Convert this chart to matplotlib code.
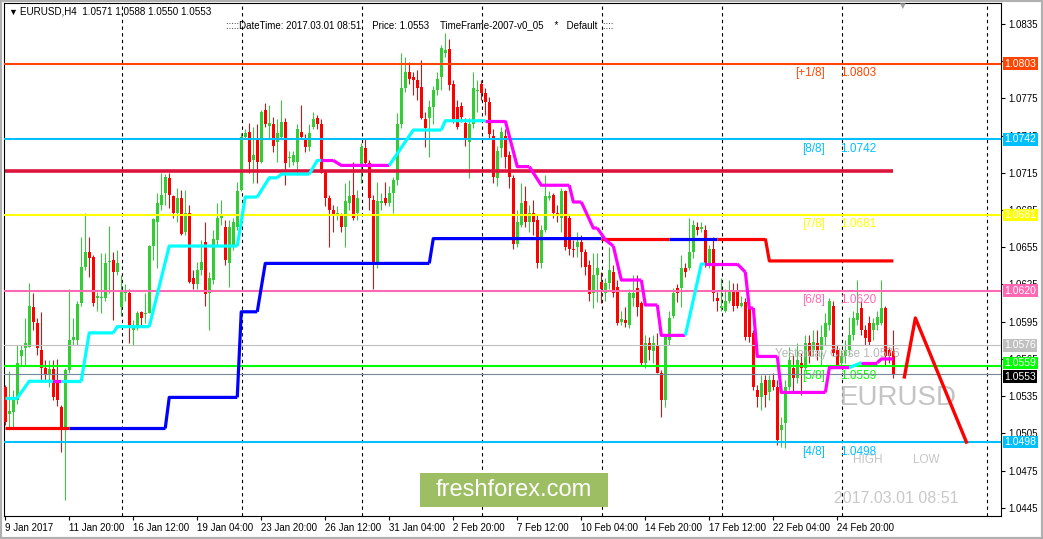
import numpy as np
import matplotlib.pyplot as plt
from matplotlib.patches import Rectangle
from matplotlib.transforms import blended_transform_factory

plt.rcParams['font.family'] = ['Liberation Sans', 'DejaVu Sans']

# EURUSD H4 candles, prices written as points above 1.0000 (553 -> 1.0553)
bar_open = [542, 521, 522, 532, 567, 574, 575, 607, 594, 572,
            558, 552, 557, 548, 526, 509, 556, 580, 580, 610,
            639, 651, 647, 614, 614, 614, 643, 645, 635, 607,
            618, 618, 588, 591, 603, 601, 602, 656, 675, 689,
            699, 711, 696, 683, 695, 667, 683, 630, 625, 637,
            659, 618, 629, 661, 679, 671, 642, 655, 671, 701,
            744, 748, 725, 742, 724, 766, 753, 754, 740, 744,
            756, 727, 724, 724, 748, 742, 736, 752, 759, 754,
            717, 695, 685, 681, 681, 671, 691, 697, 683, 720,
            735, 723, 693, 642, 691, 695, 691, 699, 709, 754,
            783, 796, 792, 790, 784, 758, 759, 768, 782, 792,
            812, 815, 787, 768, 769, 755, 740, 754, 781, 787,
            779, 772, 745, 711, 735, 745, 729, 711, 658, 673,
            692, 675, 683, 677, 642, 669, 695, 697, 683, 679,
            700, 679, 654, 655, 659, 651, 641, 618, 633, 627,
            618, 626, 635, 623, 595, 596, 592, 614, 622, 610,
            562, 578, 571, 576, 554, 532, 580, 600, 622, 622,
            638, 638, 651, 671, 670, 669, 642, 654, 614, 606,
            604, 612, 619, 619, 608, 611, 606, 586, 540, 534,
            548, 538, 548, 542, 508, 513, 542, 558, 550, 562,
            558, 578, 572, 578, 572, 583, 592, 608, 572, 562,
            567, 572, 584, 596, 606, 588, 594, 588, 592, 594,
            606, 572, 571]
bar_high = [544, 555, 540, 576, 576, 598, 626, 618, 598, 603,
            564, 564, 564, 565, 528, 558, 621, 598, 612, 663,
            683, 663, 649, 619, 650, 650, 672, 651, 653, 633,
            625, 621, 596, 604, 604, 618, 657, 679, 699, 715,
            714, 715, 697, 703, 701, 701, 689, 637, 643, 661,
            675, 635, 669, 691, 693, 677, 677, 679, 708, 747,
            750, 755, 752, 754, 766, 771, 770, 760, 758, 774,
            759, 733, 733, 754, 770, 746, 754, 764, 762, 758,
            717, 697, 689, 688, 683, 707, 709, 724, 701, 739,
            742, 725, 697, 708, 699, 708, 704, 712, 763, 812,
            808, 804, 796, 798, 806, 764, 774, 785, 796, 818,
            828, 823, 790, 774, 772, 759, 759, 796, 790, 790,
            783, 776, 750, 737, 752, 750, 733, 713, 685, 707,
            704, 689, 693, 681, 673, 713, 700, 699, 689, 703,
            701, 681, 661, 667, 665, 654, 645, 650, 650, 635,
            630, 655, 641, 629, 604, 607, 621, 633, 633, 612,
            584, 583, 584, 586, 556, 584, 604, 622, 625, 649,
            642, 679, 677, 675, 675, 673, 657, 663, 619, 630,
            621, 629, 626, 626, 616, 614, 608, 588, 544, 552,
            552, 552, 554, 548, 518, 548, 575, 568, 578, 570,
            584, 584, 588, 588, 592, 602, 614, 612, 576, 572,
            580, 599, 604, 629, 612, 592, 600, 598, 604, 629,
            608, 575, 588]
bar_low = [512, 510, 510, 529, 559, 560, 575, 588, 568, 548,
           548, 542, 532, 527, 490, 451, 554, 576, 576, 608,
           637, 631, 608, 604, 602, 612, 618, 596, 633, 600,
           612, 578, 576, 588, 592, 594, 602, 645, 638, 685,
           689, 687, 679, 675, 665, 665, 626, 621, 621, 633,
           608, 588, 625, 657, 673, 641, 623, 653, 669, 700,
           742, 715, 707, 707, 723, 752, 742, 732, 724, 742,
           705, 720, 721, 715, 742, 732, 733, 750, 750, 715,
           688, 655, 667, 677, 667, 655, 685, 677, 677, 707,
           721, 685, 621, 638, 685, 689, 688, 683, 705, 751,
           780, 787, 778, 774, 758, 736, 728, 754, 778, 782,
           808, 782, 755, 750, 756, 737, 711, 751, 764, 774,
           762, 742, 707, 704, 728, 719, 703, 654, 655, 671,
           671, 667, 665, 638, 638, 667, 693, 679, 675, 667,
           653, 649, 647, 647, 639, 633, 612, 606, 611, 610,
           612, 621, 615, 592, 592, 591, 590, 608, 600, 560,
           558, 564, 562, 554, 518, 526, 576, 598, 611, 607,
           631, 637, 646, 665, 667, 639, 638, 612, 604, 604,
           603, 610, 604, 606, 607, 580, 579, 540, 526, 524,
           526, 532, 540, 496, 494, 493, 540, 538, 546, 536,
           556, 562, 567, 564, 560, 576, 588, 567, 558, 558,
           562, 568, 580, 592, 584, 576, 576, 580, 588, 592,
           560, 562, 550]
bar_close = [514, 523, 534, 562, 572, 578, 608, 595, 574, 558,
             552, 557, 534, 532, 509, 556, 580, 583, 609, 639,
             651, 646, 610, 616, 615, 642, 644, 635, 642, 619,
             619, 592, 590, 602, 598, 602, 656, 678, 691, 697,
             712, 697, 683, 695, 666, 683, 627, 625, 637, 643,
             617, 630, 662, 679, 681, 645, 671, 675, 700, 744,
             747, 724, 729, 724, 764, 754, 755, 737, 747, 756,
             723, 728, 729, 750, 744, 736, 747, 758, 754, 715,
             695, 685, 681, 683, 671, 692, 696, 679, 695, 736,
             723, 695, 642, 692, 692, 691, 699, 709, 754, 783,
             796, 791, 790, 783, 759, 751, 768, 782, 791, 816,
             814, 786, 758, 752, 760, 742, 754, 783, 782, 779,
             772, 746, 712, 733, 748, 728, 712, 658, 675, 691,
             675, 683, 675, 642, 669, 696, 696, 683, 681, 700,
             655, 654, 653, 659, 651, 639, 617, 633, 638, 621,
             626, 637, 618, 594, 597, 594, 618, 618, 607, 562,
             578, 572, 578, 554, 532, 583, 598, 618, 618, 638,
             635, 651, 673, 669, 671, 642, 654, 618, 612, 608,
             612, 619, 608, 608, 610, 583, 583, 542, 534, 546,
             536, 548, 542, 500, 512, 542, 564, 550, 564, 558,
             578, 567, 579, 572, 583, 594, 612, 570, 560, 567,
             572, 584, 598, 602, 588, 582, 579, 594, 599, 606,
             567, 567, 553]

date_ticks = [0, 16, 32, 48, 64, 80, 96, 112, 128, 144, 160, 176, 192, 208]
date_labels = ['9 Jan 2017', '11 Jan 20:00', '16 Jan 12:00', '19 Jan 04:00',
               '23 Jan 20:00', '26 Jan 12:00', '31 Jan 04:00', '2 Feb 20:00',
               '7 Feb 12:00', '10 Feb 04:00', '14 Feb 20:00', '17 Feb 12:00',
               '22 Feb 04:00', '24 Feb 20:00']

# Murrey math levels
murrey_names = ['[+1/8]', '[8/8]', '[7/8]', '[6/8]', '[5/8]', '[4/8]']
murrey_levels = [803, 742, 681, 620, 559, 498]
murrey_colors = ['#FF4500', '#00BFFF', '#FFFF00', '#FF69B4', '#00FF00', '#00BFFF']

yesterday_close = 576
bid_price = 553
crimson_level = 716.5

# support / resistance steps
sr_start = [0, 16, 41, 59, 65, 107, 149, 166, 178, 191]
sr_end = [16, 40, 58, 63, 106, 149, 166, 178, 190, 222]
sr_level = [509, 509, 534, 603, 642, 662, 662, 662, 662, 644]
sr_color = ['r', 'b', 'b', 'b', 'b', 'b', 'r', 'b', 'r', 'r']

# trailing stop line (c = cyan up, m = magenta down)
tr_start = [0, 6, 13, 15, 21, 28, 41, 60, 66, 69, 78, 79, 84, 102, 110, 120,
            128, 134, 142, 147, 150, 152, 154, 160, 164, 174, 176, 185, 186,
            188, 194, 206, 214, 215, 219]
tr_end = [3, 12, 14, 19, 27, 36, 58, 63, 68, 76, 79, 82, 96, 109, 120, 125,
          131, 141, 144, 148, 150, 152, 159, 163, 170, 175, 183, 185, 187,
          193, 205, 211, 214, 218, 222]
tr_level = [533.5, 547, 547, 547, 586, 591, 656, 695.5, 711, 714, 725, 725,
            721, 749.5, 757, 757, 720, 705, 691.5, 670.5, 661, 656, 628.6,
            608.5, 584, 641.5, 641.5, 635, 606, 567, 538, 558, 562, 562, 565]
tr_color = ['c', 'c', 'm', 'c', 'c', 'c', 'c', 'c', 'c', 'c', 'c', 'm', 'm',
            'c', 'c', 'm', 'm', 'm', 'm', 'm', 'm', 'm', 'm', 'm', 'm', 'c',
            'm', 'm', 'm', 'm', 'm', 'm', 'c', 'm', 'm']

# forecast zigzag
zz_bar = [224.75, 227.5, 240.25]
zz_level = [550.5, 598, 498]


def price(v):
    return 1 + np.asarray(v, dtype=float) / 10000.0


W, H = 1043, 539
fig = plt.figure(figsize=(W / 100, H / 100), dpi=100)
fig.patch.set_facecolor('white')
ax = fig.add_axes([4 / W, 23 / H, 997 / W, 513 / H])
ax.set_xlim(-0.3, 248.9)
ax.set_ylim(1.04384, 1.08519)
for s in ax.spines.values():
    s.set_color('black')
    s.set_linewidth(0.8)

o, h, l, c = price(bar_open), price(bar_high), price(bar_low), price(bar_close)
idx = np.arange(len(o))
up = c >= o
cols = np.where(up, '#32CD32', '#FF0000')
ax.vlines(idx, l, h, colors=cols, lw=0.75, zorder=3)
body = np.maximum(np.abs(c - o), 0.00009)
ax.bar(idx, body, bottom=np.minimum(o, c), width=0.72, color=cols,
       linewidth=0, zorder=3)

# dotted period separators
for gx in [29.2, 59.2, 89.2, 119.2, 149.2, 179.2, 209.2, 245.4]:
    ax.axvline(gx, color='black', lw=0.8, ls=(0, (3, 3)), zorder=2)

# horizontal levels
for name, lev, col in zip(murrey_names, murrey_levels, murrey_colors):
    ax.axhline(price(lev), color=col, lw=1.5, zorder=4)
    ax.annotate(name, (205, price(lev)), xytext=(0, -2.5), textcoords='offset points',
                ha='right', va='top', color=col, fontsize=8.5, zorder=4)
    ax.annotate('%.4f' % price(lev), (208.6, price(lev)), xytext=(0, -2.5),
                textcoords='offset points', ha='left', va='top', color=col,
                fontsize=8.5, zorder=4)
ax.axhline(price(yesterday_close), color='#C0C0C0', lw=0.8, zorder=4)
ax.annotate('Yesterday Close %.4f' % price(yesterday_close), (192.5, price(yesterday_close)),
            xytext=(0, -2), textcoords='offset points', ha='left', va='top',
            color='#B8B8B8', fontsize=8.5, zorder=4)
ax.axhline(price(bid_price), color='#778899', lw=0.8, zorder=4)
ax.plot([0, 222], [price(crimson_level)] * 2, color='#DC143C', lw=2.6,
        solid_capstyle='butt', zorder=4)

# support / resistance step line
cmap_sr = {'r': '#FF0000', 'b': '#0000FF'}
prev = None
for s, e, lev, cc in zip(sr_start, sr_end, sr_level, sr_color):
    xs, ys = [s, e], [price(lev)] * 2
    if prev is not None:
        xs, ys = [prev[0]] + xs, [prev[1]] + ys
    ax.plot(xs, ys, color=cmap_sr[cc], lw=2.3, solid_capstyle='butt', zorder=5)
    prev = (e, price(lev))

# trailing line
cmap_tr = {'c': '#00FFFF', 'm': '#FF00FF'}
prev = None
for s, e, lev, cc in zip(tr_start, tr_end, tr_level, tr_color):
    xs, ys = [s, e], [price(lev)] * 2
    if prev is not None:
        xs, ys = [prev[0]] + xs, [prev[1]] + ys
    ax.plot(xs, ys, color=cmap_tr[cc], lw=2.3, solid_capstyle='butt', zorder=6)
    prev = (e, price(lev))

ax.plot(zz_bar, price(zz_level), color='#FF0000', lw=2.4, zorder=6)

# watermark texts
ax.text(208.5, 1.05335, 'EURUSD', color='#C4C4C4', fontsize=20, ha='left', va='center', zorder=2)
ax.text(212, 1.04835, 'HIGH', color='#C4C4C4', fontsize=8.5, ha='left', va='center', zorder=2)
ax.text(227, 1.04835, 'LOW', color='#C4C4C4', fontsize=8.5, ha='left', va='center', zorder=2)
ax.text(207.2, 1.04525, '2017.03.01 08:51', color='#C8C8C8', fontsize=11.5,
        ha='left', va='center', zorder=2)

# axes ticks
ax.yaxis.tick_right()
yt = np.arange(1.0445, 1.0836, 0.003)
ax.set_yticks(yt)
ax.set_yticklabels(['%.4f' % v for v in yt])
ax.tick_params(axis='y', direction='out', length=3, pad=2, labelsize=7, width=0.8)
ax.set_xticks(date_ticks)
ax.set_xticklabels(date_labels)
ax.tick_params(axis='x', direction='out', length=3, pad=2, labelsize=7, width=0.8)
for lab in ax.get_xticklabels():
    lab.set_ha('left')

# coloured price tags on the price axis (lime and black tags nudged apart)
tag_tr = blended_transform_factory(ax.transAxes, ax.transData)
tags = [(803, '#FF4500', 0), (742, '#00BFFF', 0), (681, '#FFFF00', 0), (620, '#FF69B4', 0),
        (576, '#C0C0C0', 0), (559, '#00FF00', 2.5), (553, '#000000', -2), (498, '#00BFFF', 0)]
for lev, col, dy in tags:
    ax.annotate('%.4f' % price(lev), (1.0035, price(lev)), xycoords=tag_tr,
                xytext=(0, dy), textcoords='offset points', ha='left', va='center',
                color='white', fontsize=7.5, annotation_clip=False, zorder=10,
                bbox=dict(boxstyle='square,pad=0.12', fc=col, ec='none'))

# header lines
fig.text(8 / W, 1 - 12 / H, '\u25bc', fontsize=6.5, va='center', ha='left', color='black')
fig.text(20 / W, 1 - 12 / H, 'EURUSD,H4  1.0571 1.0588 1.0550 1.0553', fontsize=7.1,
         va='center', ha='left', color='black')
fig.text(226 / W, 1 - 25 / H,
         ':::::DateTime: 2017.03.01 08:51    Price: 1.0553    TimeFrame-2007-v0_05    *   Default  ::::',
         fontsize=7.0, va='center', ha='left', color='black')
fig.text(902 / W, 1 - 6 / H, '\u25bc', fontsize=7, va='center', ha='center', color='#A0A0A0')

# freshforex badge
fig.patches.append(Rectangle((420 / W, 32 / H), 188 / W, 34 / H, transform=fig.transFigure,
                             fc='#9DBE63', ec='none', zorder=5))
fig.text(514 / W, 49 / H, 'freshforex.com', fontsize=17, color='white', ha='center',
         va='center', zorder=6)

# window frame
fig.patches.append(Rectangle((0, 0), 1, 1, transform=fig.transFigure, fill=False,
                             ec='#B0B0B0', lw=3, zorder=7))

fig.savefig('out.png', dpi=100)
